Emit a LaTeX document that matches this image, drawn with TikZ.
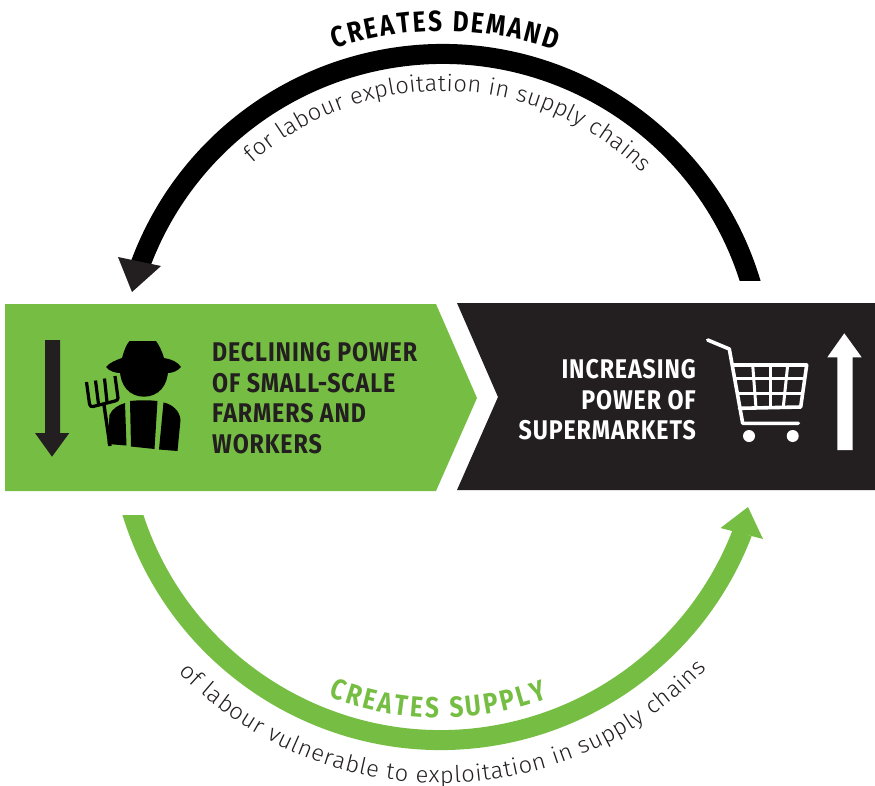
\documentclass[tikz,border=0pt]{standalone}
\usepackage{fontspec}
\usetikzlibrary{decorations.text}
\setmainfont{Fira Sans}
\newfontfamily\headfont[FakeStretch=0.86,LetterSpace=3.3]{Fira Sans Bold}
\newfontfamily\archeadfont[FakeStretch=0.84]{Fira Sans Bold}
\newfontfamily\lightfont[FakeStretch=1.03]{Fira Sans Light}
\definecolor{leaf}{RGB}{118,190,67}
\definecolor{ink}{RGB}{35,31,32}
\tikzset{
  x=1pt,y=-1pt,
  panel/.style={fill=#1,draw=none},
  shaft/.style={line width=20pt,draw=#1},
  headtext/.style={font=\headfont\fontsize{27}{30.6}\selectfont,inner sep=0pt},
  ontheline/.style={decorate,decoration={text along path,text align=fit to path,text={#1}}},
  iconline/.style={draw=#1,line width=3.6pt,line join=round,line cap=round},
}
\begin{document}
\begin{tikzpicture}
\useasboundingbox (0,0) rectangle (875,785);
\coordinate (bc) at (442.5,376);
\coordinate (gc) at (440.7,417);
% panels
\fill[panel=leaf] (5,304) -- (436,304) -- (477,398) -- (436,491) -- (5,491) -- cycle;
\fill[panel=ink] (457,303) -- (875,303) -- (875,490) -- (457,490) -- (498,397) -- cycle;
% black arc
\begin{scope}[x=1pt,y=1pt]
\clip (0pt,-280pt) rectangle (875pt,0pt);
\draw[shaft=black] ([shift={(14:322pt)}]bc) arc[start angle=14,end angle=160,radius=322pt];
\end{scope}
\fill[ink] (118,257) -- (161,266) -- (132,292) -- cycle;
% green arc
\begin{scope}[x=1pt,y=1pt]
\clip (0pt,-515.5pt) rectangle (875pt,-785pt);
\draw[shaft=leaf] ([shift={(194:323pt)}]gc) arc[start angle=194,end angle=339,radius=323pt];
\end{scope}
\fill[leaf] (748,507) -- (720.5,528) -- (763,539) -- cycle;
% arc texts
\begin{scope}[x=1pt,y=1pt]
\path[ontheline={|\archeadfont\fontsize{29}{29}\selectfont\color{black}|CREATES DEMAND}]
  ([shift={(108.2:345pt)}]bc) arc[start angle=108.2,end angle=70.9,radius=345pt];
\path[ontheline={|\lightfont\fontsize{23}{23}\selectfont\color{ink}|for labour exploitation in supply chains}]
  ([shift={(131.7:285pt)}]bc) arc[start angle=131.7,end angle=45.4,radius=285pt];
\path[ontheline={|\archeadfont\fontsize{29}{29}\selectfont\color{leaf}|CREATES SUPPLY}]
  ([shift={(248.2:301pt)}]gc) arc[start angle=248.2,end angle=290.8,radius=301pt];
\path[ontheline={|\lightfont\fontsize{23}{23}\selectfont\color{ink}|of labour vulnerable to exploitation in supply chains}]
  ([shift={(224.3:366pt)}]gc) arc[start angle=224.3,end angle=316.6,radius=366pt];
\end{scope}
% panel texts
\node[headtext,anchor=west,align=left,text=ink] (declining) at (212,398)
  {DECLINING POWER\\OF SMALL-SCALE\\FARMERS AND\\WORKERS};
\node[headtext,anchor=east,align=right,text=white] (increasing) at (696,400)
  {INCREASING\\POWER OF\\SUPERMARKETS};
% down arrow
\fill[ink] (45,340) -- (60,340) -- (60,433) -- (69.3,433) -- (52,456.7) -- (35,433) -- (45,433) -- cycle;
% up arrow
\fill[white] (837.3,450) -- (852.7,450) -- (852.7,357.3) -- (861.7,357.3) -- (844.3,333.3) -- (827.3,357.3) -- (837.3,357.3) -- cycle;
% farmer
\fill[black] (129.5,341) -- (156,341) .. controls (159,345) and (162,351) .. (164,358)
  .. controls (171,359) and (178,362) .. (181,367) .. controls (178,371) and (172,373) .. (168,373)
  -- (120,373) .. controls (115,373) and (109,371) .. (106,367)
  .. controls (109,363) and (116,360) .. (122,358) .. controls (124,351) and (126,345) .. (129.5,341) -- cycle;
\fill[black] (120,370) .. controls (120,386) and (130,396.7) .. (144,396.7) .. controls (158,396.7) and (168,386) .. (168,370) -- cycle;
\fill[black] (109.5,415) .. controls (112,409) and (118,405) .. (125,403) -- (126.5,445.5) -- (107.5,444) -- cycle;
\fill[black] (130,401) .. controls (140,400) and (148,400) .. (157.5,401) -- (154.5,449) -- (131,446.5) -- cycle;
\fill[black] (163.5,402.5) .. controls (172,404) and (180,411) .. (180.5,420) -- (177.5,451) -- (159,449.5) -- cycle;
\draw[black,line width=3.2pt,line join=round] (86.5,382) -- (89.5,404) .. controls (90,406) and (91,407) .. (93,406.5) -- (115,401) .. controls (117,400.5) and (118,399.5) .. (118,398) -- (115,376);
\draw[black,line width=3.2pt] (95.5,380.5) -- (98.5,404);
\draw[black,line width=3.2pt] (104.5,378.5) -- (107,402);
\draw[black,line width=3.4pt] (104,405) -- (110,446);
% cart
\draw[iconline=white] (707.7,340) -- (729.3,349) -- (742.7,423.3) -- (798.3,423.3);
\draw[iconline=white] (732.7,365) -- (806.7,365) -- (800.7,407) -- (739.5,408.3);
\draw[white,line width=3pt] (735,378.5) -- (805,378.5);
\draw[white,line width=3pt] (737,393) -- (803,393);
\draw[white,line width=3pt] (752.7,365) -- (756,408);
\draw[white,line width=3pt] (770,365) -- (770,407.5);
\draw[white,line width=3pt] (787.7,365) -- (783.3,407);
\fill[white] (749,436) circle[radius=6];
\fill[white] (792.7,436) circle[radius=6];
\end{tikzpicture}
\end{document}
